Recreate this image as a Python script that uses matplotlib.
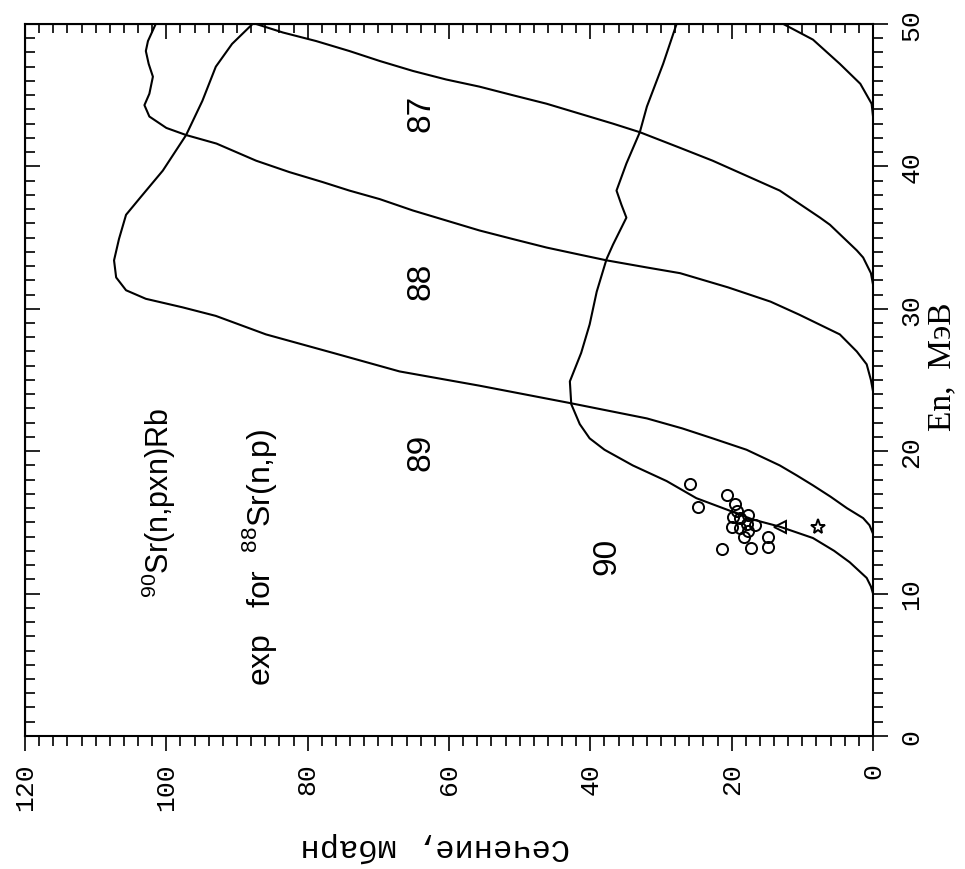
import matplotlib
matplotlib.use('Agg')
import matplotlib.pyplot as plt
from matplotlib.ticker import MultipleLocator

plt.rcParams['mathtext.fontset'] = 'custom'
plt.rcParams['mathtext.rm'] = 'Liberation Sans'

# curves: energy (MeV) and cross section (mb)
e90 = [10.0, 10.5, 11.1, 12.2, 13.0, 13.9, 14.7, 15.2, 15.9, 16.7, 17.9, 19.0, 20.1, 20.9,
       21.9, 23.3, 24.9, 26.9, 28.9, 31.2, 33.5, 34.5, 35.5, 36.4, 37.3, 38.3, 40.2, 42.4,
       44.2, 47.2, 50.0]
s90 = [0, 0.3, 0.9, 3.3, 5.5, 8.5, 13.2, 17.0, 20.7, 25.0, 29.2, 34.0, 38.0, 40.1,
       41.5, 42.7, 42.9, 41.3, 40.1, 39.1, 37.7, 36.8, 35.8, 34.9, 35.6, 36.3, 34.9, 33.0,
       32.0, 29.7, 27.8]

e89 = [14.2, 14.8, 15.3, 16.0, 16.8, 17.6, 18.3, 19.0, 20.1, 20.9, 21.6, 22.3, 23.4, 24.6,
       25.6, 26.9, 28.2, 29.5, 30.1, 30.7, 31.3, 32.2, 33.4, 34.9, 36.6, 37.8, 39.7, 42.2,
       44.6, 47.0, 48.6, 50.0]
s89 = [0, 0.5, 1.4, 3.7, 6.0, 8.5, 10.8, 13.2, 17.9, 22.7, 27.0, 32.0, 43.1, 55.7,
       67.0, 76.4, 85.9, 93.0, 97.7, 102.9, 105.7, 107.1, 107.4, 106.7, 105.7, 103.7, 100.5, 97.2,
       94.9, 93.0, 90.7, 87.8]

e88 = [24.2, 25.0, 26.1, 27.0, 28.2, 29.6, 30.5, 31.5, 32.5, 32.9, 33.4, 33.8, 34.3, 34.9,
       35.5, 36.2, 36.9, 37.7, 38.3, 38.9, 39.6, 40.4, 41.6, 42.2, 42.7, 43.5, 44.3, 45.1,
       46.3, 47.2, 48.1, 48.8, 50.0]
s88 = [0, 0.3, 0.9, 2.3, 4.7, 10.5, 14.5, 20.5, 27.3, 32.0, 37.7, 41.5, 46.2, 51.0,
       55.7, 60.4, 65.1, 69.8, 74.1, 77.9, 82.6, 87.3, 92.9, 97.2, 100.0, 102.4, 103.1, 102.4,
       101.9, 102.5, 102.9, 102.6, 101.5]

e87 = [31.7, 32.5, 33.6, 34.1, 35.9, 36.4, 38.3, 40.4, 41.3, 42.4, 43.0, 43.7, 44.4, 45.0,
       45.6, 46.1, 46.7, 47.4, 48.1, 48.8, 49.4, 50.0]
s87 = [0, 0.3, 1.4, 2.3, 6.1, 7.5, 13.2, 22.7, 27.3, 33.0, 36.8, 41.5, 46.2, 51.0,
       55.7, 60.4, 65.1, 69.8, 74.1, 78.8, 83.5, 87.3]

e86 = [43.5, 44.4, 45.8, 47.2, 48.9, 50.0]
s86 = [0, 0.2, 1.8, 4.7, 8.5, 12.7]

# experimental points for 88Sr(n,p)
exp_e = [17.7, 16.1, 16.9, 16.3, 15.8, 15.4, 15.3, 15.5, 14.9, 14.8, 14.7, 14.6, 14.4,
         14.0, 14.0, 13.3, 13.2, 13.1]
exp_s = [25.9, 24.8, 20.7, 19.5, 19.3, 19.8, 18.8, 17.7, 17.8, 16.7, 20.0, 18.8, 17.7,
         18.3, 14.9, 14.9, 17.3, 21.4]
tri_e = [14.7]
tri_s = [13.2]
star_e = [14.7]
star_s = [7.8]

curve_labels = ['87', '88', '89', '90']
label_e = [43.8, 32.0, 20.0, 12.7]
label_s = [64.0, 64.0, 64.0, 37.7]

sigma_ticks = [0, 20, 40, 60, 80, 100, 120]
energy_ticks = [0, 10, 20, 30, 40, 50]

mono = 'Liberation Mono'
sans = 'Liberation Sans'
serif = 'Liberation Serif'

fig = plt.figure(figsize=(9.65, 8.7), dpi=100)
ax = fig.add_axes([0.0259, 0.1529, 0.8788, 0.8184])

# the figure is drawn turned by 90 degrees: cross section runs right to left
for e, s in [(e90, s90), (e89, s89), (e88, s88), (e87, s87), (e86, s86)]:
    ax.plot(s, e, color='black', lw=1.5)

ax.plot(exp_s, exp_e, 'o', ms=8, mfc='none', mec='black', mew=1.4)
ax.plot(tri_s, tri_e, '<', ms=8, mfc='none', mec='black', mew=1.4)
ax.plot(star_s, star_e, '*', ms=11, mfc='none', mec='black', mew=1.4)

for lab, e, s in zip(curve_labels, label_e, label_s):
    ax.text(s, e, lab, rotation=90, ha='center', va='center', fontsize=24, family=sans)

ax.text(101, 16.4, '$^{90}$Sr(n,pxn)Rb', rotation=90, ha='center', va='center',
        fontsize=22, family=sans)
ax.text(86.8, 12.6, 'exp   for  $^{88}$Sr(n,p)', rotation=90, ha='center', va='center',
        fontsize=23, family=sans)

ax.set_xlim(120, 0)
ax.set_ylim(0, 50)

# bottom / right: outward ticks with labels
ax.set_xticks(sigma_ticks, [str(t) for t in sigma_ticks], rotation=90, va='top',
              ha='center', family=mono, fontsize=19)
ax.xaxis.set_minor_locator(MultipleLocator(2))
ax.yaxis.tick_right()
ax.set_yticks(energy_ticks, [str(t) for t in energy_ticks], rotation=90, va='center',
              ha='left', family=mono, fontsize=19)
ax.yaxis.set_minor_locator(MultipleLocator(1))
ax.tick_params(which='both', direction='out', width=1.2, top=False, left=False)
ax.tick_params(which='major', length=11, pad=8)
ax.tick_params(which='minor', length=7.5)

# top / left: inward ticks, no labels
top = ax.secondary_xaxis('top')
top.xaxis.set_major_locator(MultipleLocator(20))
top.xaxis.set_minor_locator(MultipleLocator(2))
top.tick_params(which='both', direction='in', width=1.2, labeltop=False)
top.tick_params(which='major', length=11)
top.tick_params(which='minor', length=6.5)

left = ax.secondary_yaxis('left')
left.yaxis.set_major_locator(MultipleLocator(10))
left.yaxis.set_minor_locator(MultipleLocator(1))
left.tick_params(which='both', direction='in', width=1.2, labelleft=False)
left.tick_params(which='major', length=11)
left.tick_params(which='minor', length=7)

for sp in ax.spines.values():
    sp.set_linewidth(1.5)

fig.text(0.976, 0.578, 'En,  МэВ', rotation=90, ha='center', va='center',
         fontsize=24, family=serif)
fig.text(0.451, 0.026, 'Сечение, мбарн', rotation=180, ha='center', va='center',
         fontsize=23, family=mono)

fig.savefig('out.png', dpi=100)
